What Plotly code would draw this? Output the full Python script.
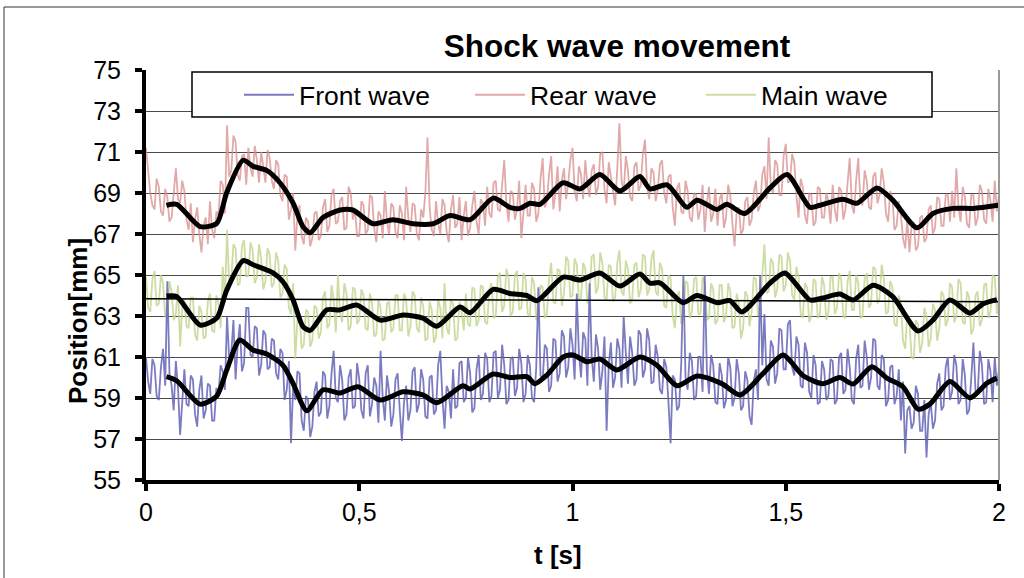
import plotly.graph_objects as go

# ---------------- data ----------------
title_text = "Shock wave movement"
series_names = ["Front wave", "Rear wave", "Main wave"]
x_ticks = [0, 0.5, 1, 1.5, 2]
y_ticks = [55, 57, 59, 61, 63, 65, 67, 69, 71, 73, 75]

sample_step = 0.005  # s, sampling interval of the raw signals (401 samples, 0..2 s)

rear_raw = [
    71.2, 70.1, 69.0, 68.4, 68.2, 69.7, 69.3, 68.1, 67.9, 69.2, 68.8, 67.6, 67.8, 69.0, 70.2, 68.7, 68.5, 69.6, 69.1, 67.7,
    67.2, 68.5, 66.6, 67.7, 68.3, 67.0, 66.1, 67.4, 67.8, 66.5, 68.6, 67.2, 66.8, 68.1, 67.9, 69.6, 69.4, 68.0, 72.3, 69.8,
    70.1, 71.8, 71.5, 69.9, 69.6, 70.8, 70.9, 69.4, 71.2, 70.2, 69.8, 71.3, 70.6, 69.5, 71.0, 70.3, 69.5, 71.1, 70.7, 69.6,
    69.2, 70.6, 70.4, 68.9, 68.6, 69.9, 69.8, 67.7, 68.2, 69.0, 66.2, 67.9, 68.4, 66.9, 66.5, 67.8, 67.6, 66.4, 66.8, 68.0,
    68.1, 66.7, 66.9, 68.3, 68.7, 67.1, 67.4, 68.9, 69.2, 67.5, 67.6, 68.6, 68.8, 67.2, 67.3, 69.3, 69.0, 67.7, 68.2, 66.9,
    66.9, 68.6, 68.4, 67.0, 67.2, 68.9, 68.8, 67.3, 66.6, 68.1, 67.9, 66.8, 69.1, 67.6, 67.0, 68.5, 68.3, 67.1, 66.8, 68.4,
    68.0, 66.7, 69.3, 67.8, 67.1, 68.5, 68.4, 67.0, 66.7, 68.2, 67.8, 69.0, 71.7, 68.3, 67.2, 66.9, 68.6, 67.5, 67.0, 68.7,
    68.4, 67.1, 66.6, 68.2, 68.9, 67.3, 67.5, 68.8, 66.7, 67.9, 68.6, 66.9, 67.3, 68.4, 69.1, 67.6, 67.0, 68.7, 68.5, 67.4,
    69.3, 68.0, 67.8, 69.5, 69.6, 68.2, 68.1, 69.4, 70.6, 68.5, 67.6, 69.1, 69.0, 67.7, 68.2, 69.6, 66.8, 68.0, 69.4, 67.9,
    67.9, 69.5, 69.2, 67.6, 68.0, 69.7, 70.7, 68.3, 68.6, 69.9, 70.8, 68.2, 69.0, 70.3, 68.1, 69.6, 70.2, 68.7, 69.5, 70.6,
    71.2, 69.1, 68.6, 70.3, 69.9, 68.7, 70.6, 69.4, 68.8, 70.1, 70.4, 68.9, 69.3, 70.9, 71.0, 69.2, 68.5, 70.5, 69.8, 68.9,
    68.4, 70.2, 72.4, 69.6, 69.0, 70.8, 70.1, 68.8, 68.6, 70.3, 70.5, 69.1, 69.4, 70.9, 71.6, 69.3, 68.7, 70.2, 70.0, 68.6,
    69.2, 70.4, 70.6, 69.0, 68.5, 69.8, 69.9, 68.3, 67.4, 69.2, 69.5, 68.1, 68.0, 69.6, 69.1, 67.8, 67.6, 69.0, 68.9, 67.7,
    68.2, 69.4, 67.1, 68.5, 69.3, 67.6, 68.0, 69.2, 67.4, 68.7, 69.0, 67.3, 67.8, 69.4, 68.9, 67.5, 66.4, 68.1, 68.3, 67.0,
    67.2, 68.6, 68.8, 67.4, 67.7, 69.0, 69.6, 68.1, 68.4, 69.9, 70.3, 68.7, 71.7, 69.3, 69.0, 70.6, 70.4, 68.9, 68.9, 70.8,
    71.4, 69.5, 69.6, 70.9, 70.5, 68.9, 67.8, 69.7, 69.3, 67.9, 67.5, 69.0, 68.9, 67.4, 67.6, 69.3, 69.2, 67.8, 67.8, 69.0,
    68.6, 67.5, 69.4, 68.2, 67.6, 69.3, 69.1, 67.7, 68.2, 69.5, 70.7, 68.4, 68.0, 69.6, 70.7, 68.6, 68.4, 70.1, 69.6, 68.3,
    68.2, 69.8, 70.0, 68.5, 68.9, 70.2, 69.5, 68.0, 67.6, 69.1, 68.8, 67.2, 67.4, 68.6, 67.9, 66.8, 66.3, 67.7, 66.1, 67.4,
    67.6, 66.2, 66.4, 67.8, 67.9, 66.6, 66.8, 68.2, 68.4, 67.0, 67.3, 68.8, 68.7, 67.4, 67.4, 68.9, 68.9, 67.6, 69.1, 67.8,
    70.2, 68.3, 67.6, 69.3, 68.8, 67.5, 67.3, 68.9, 68.9, 67.4, 67.8, 69.4, 69.1, 67.7, 67.5, 69.2, 68.6, 67.6, 69.6, 68.1,
    68.9,
]

front_raw = [
    61.0, 59.8, 59.2, 60.9, 60.6, 59.1, 58.9, 60.5, 61.4, 59.6, 64.7, 60.2, 59.6, 58.4, 60.8, 59.5, 57.2, 59.0, 60.4, 58.7,
    58.6, 60.1, 59.9, 58.2, 57.6, 59.4, 60.1, 58.0, 58.4, 59.7, 59.6, 57.9, 57.9, 59.5, 59.2, 60.6, 60.3, 59.4, 63.0, 60.9,
    61.2, 62.8, 59.9, 61.6, 62.6, 60.3, 60.7, 63.4, 63.4, 61.1, 61.0, 62.5, 62.4, 60.1, 60.6, 62.3, 62.1, 60.4, 60.5, 61.9,
    61.8, 60.2, 59.9, 61.4, 61.2, 58.9, 59.4, 60.8, 56.8, 59.6, 58.9, 60.3, 60.2, 57.9, 57.4, 59.1, 58.9, 57.1, 57.6, 59.3,
    59.8, 58.1, 58.3, 60.3, 60.1, 58.0, 58.6, 60.2, 61.3, 59.0, 58.8, 60.6, 59.9, 57.9, 58.2, 60.0, 60.4, 58.5, 58.6, 60.7,
    59.9, 58.4, 58.0, 60.2, 60.6, 58.1, 58.7, 60.0, 59.6, 57.8, 61.3, 59.0, 57.9, 60.1, 59.3, 57.6, 58.2, 59.9, 60.2, 58.4,
    56.9, 58.8, 59.6, 57.9, 58.4, 60.3, 60.5, 58.3, 58.7, 60.4, 59.9, 58.1, 58.0, 60.0, 60.1, 58.2, 58.4, 60.6, 61.3, 59.0,
    57.5, 59.6, 59.3, 58.0, 60.4, 58.5, 58.6, 60.7, 60.8, 58.8, 59.0, 61.0, 60.2, 58.3, 58.5, 60.4, 61.1, 58.9, 59.2, 61.2,
    60.9, 58.8, 59.1, 61.2, 61.3, 59.0, 59.4, 61.6, 60.6, 58.7, 58.9, 60.9, 61.0, 59.1, 59.5, 61.4, 60.7, 58.8, 59.2, 61.1,
    60.6, 59.0, 58.8, 60.5, 64.4, 60.1, 59.9, 61.6, 61.4, 59.3, 59.6, 61.9, 61.8, 59.8, 60.2, 62.3, 62.0, 60.0, 60.5, 62.4,
    61.6, 59.9, 64.1, 61.2, 60.0, 62.2, 61.9, 59.6, 64.6, 61.0, 59.8, 62.1, 61.4, 59.4, 60.3, 62.0, 57.4, 60.6, 61.7, 59.5,
    60.0, 61.9, 61.4, 59.5, 63.0, 61.2, 59.7, 62.0, 61.2, 59.6, 59.9, 62.3, 62.1, 60.0, 60.4, 62.4, 61.8, 59.7, 59.8, 61.6,
    61.0, 59.4, 59.2, 60.9, 60.5, 58.8, 56.8, 60.1, 59.9, 58.4, 58.6, 60.7, 65.0, 60.0, 59.4, 61.2, 60.8, 58.9, 59.1, 61.0,
    61.0, 59.3, 65.0, 60.4, 59.2, 61.1, 60.6, 58.8, 58.7, 60.7, 60.1, 58.5, 58.9, 61.0, 60.5, 58.6, 59.0, 60.9, 60.2, 58.4,
    58.6, 60.3, 59.9, 58.1, 57.7, 59.8, 60.4, 58.9, 65.0, 60.6, 63.1, 59.9, 59.6, 61.8, 61.5, 59.7, 60.2, 62.4, 62.3, 60.4,
    60.4, 62.6, 62.8, 60.5, 60.1, 62.0, 61.6, 59.6, 59.5, 61.7, 61.2, 59.3, 59.0, 61.1, 60.6, 58.7, 58.8, 60.8, 60.4, 58.9,
    59.1, 60.9, 60.8, 58.7, 58.9, 61.0, 61.2, 59.2, 59.4, 61.4, 60.5, 58.9, 58.7, 60.9, 61.6, 59.5, 59.6, 61.8, 61.0, 59.4,
    60.0, 61.9, 61.8, 59.6, 59.4, 61.1, 60.9, 58.6, 58.9, 60.5, 60.6, 58.7, 59.1, 60.4, 57.9, 59.8, 56.3, 58.4, 58.6, 57.5,
    57.8, 59.6, 59.2, 57.4, 57.4, 58.9, 56.1, 58.2, 58.8, 57.5, 57.9, 59.7, 60.2, 58.4, 58.6, 60.5, 61.0, 58.9, 59.3, 61.1,
    60.6, 58.7, 58.9, 60.9, 60.1, 58.2, 58.4, 60.0, 61.7, 59.3, 59.2, 61.3, 60.6, 58.7, 58.8, 60.9, 60.3, 58.8, 61.0, 59.6,
    60.4,
]

main_raw = [
    64.9, 63.4, 63.2, 64.8, 65.2, 63.5, 63.6, 65.0, 64.6, 63.0, 62.9, 64.7, 64.2, 62.8, 63.1, 64.5, 61.5, 63.4, 63.8, 62.5,
    62.4, 63.9, 63.9, 62.1, 61.8, 63.5, 63.2, 61.9, 62.0, 63.7, 64.1, 62.3, 62.2, 64.0, 63.6, 62.4, 65.4, 63.7, 67.2, 64.6,
    64.8, 66.5, 66.3, 64.5, 64.6, 66.4, 66.7, 64.9, 65.0, 66.6, 66.2, 64.6, 64.9, 66.5, 65.8, 64.3, 64.7, 66.3, 66.0, 64.4,
    64.6, 66.1, 65.7, 63.9, 64.1, 65.5, 65.3, 63.4, 63.1, 64.6, 60.9, 62.8, 63.0, 61.4, 61.6, 63.3, 63.2, 61.5, 61.8, 63.5,
    63.4, 61.9, 62.2, 63.9, 64.2, 62.4, 62.6, 64.5, 63.8, 62.2, 65.0, 63.1, 62.7, 64.6, 64.1, 62.3, 62.5, 64.4, 64.3, 62.6,
    62.8, 64.3, 64.0, 62.4, 62.3, 64.1, 63.6, 62.0, 62.1, 63.8, 63.4, 61.8, 61.9, 63.6, 63.7, 62.2, 62.4, 64.0, 64.0, 62.3,
    62.3, 64.1, 63.8, 62.0, 62.5, 64.2, 64.0, 62.4, 62.2, 63.9, 63.5, 61.8, 61.9, 63.7, 63.3, 61.7, 62.0, 63.8, 63.4, 61.9,
    64.6, 62.4, 62.1, 63.8, 63.6, 61.8, 61.9, 63.7, 63.2, 62.3, 64.1, 62.6, 62.5, 64.4, 64.3, 62.5, 62.8, 64.5, 64.4, 62.7,
    62.6, 64.3, 64.6, 62.9, 63.0, 64.9, 65.1, 63.2, 63.5, 65.3, 64.9, 63.0, 63.2, 65.0, 65.2, 63.3, 63.4, 65.1, 64.8, 63.1,
    63.0, 64.9, 64.6, 62.8, 62.9, 64.5, 64.4, 62.9, 63.1, 64.8, 65.6, 63.7, 63.6, 65.3, 65.2, 63.5, 64.1, 65.9, 65.7, 63.9,
    64.0, 65.8, 65.5, 63.8, 63.9, 65.6, 65.3, 63.6, 64.2, 65.9, 66.0, 64.1, 64.4, 66.1, 65.6, 63.9, 63.8, 65.5, 65.4, 63.7,
    63.9, 65.6, 66.2, 64.2, 64.0, 65.7, 65.3, 63.6, 63.8, 65.5, 65.6, 63.9, 64.3, 66.0, 65.9, 64.0, 64.3, 65.8, 66.2, 64.2,
    64.0, 65.6, 65.3, 63.5, 63.4, 65.0, 64.8, 63.0, 62.4, 64.0, 64.2, 62.6, 63.0, 64.7, 64.6, 62.9, 63.2, 64.8, 64.9, 63.1,
    63.1, 64.9, 64.6, 62.8, 62.9, 64.6, 64.3, 62.6, 62.8, 64.5, 64.5, 62.7, 63.0, 64.6, 64.2, 62.4, 62.5, 64.1, 63.6, 61.9,
    62.4, 64.2, 64.0, 62.5, 63.2, 64.9, 64.8, 63.0, 63.6, 65.3, 66.5, 64.1, 64.2, 65.8, 65.6, 63.9, 64.3, 66.0, 65.9, 64.2,
    64.5, 66.1, 65.7, 64.0, 63.8, 65.4, 64.9, 63.1, 62.9, 64.6, 64.4, 62.7, 63.0, 64.8, 64.7, 62.9, 63.1, 64.9, 64.5, 62.8,
    63.2, 64.9, 64.9, 63.1, 63.4, 65.1, 64.8, 63.0, 62.9, 64.7, 65.2, 63.3, 63.3, 65.0, 64.6, 62.9, 63.0, 64.8, 65.1, 63.4,
    63.6, 65.4, 65.3, 63.6, 63.9, 65.5, 64.8, 63.1, 63.2, 64.7, 64.4, 62.6, 62.5, 64.0, 63.6, 61.8, 61.4, 63.1, 62.7, 61.0,
    60.9, 62.8, 62.6, 61.2, 61.7, 63.4, 63.0, 61.5, 61.9, 63.6, 63.3, 61.8, 62.4, 64.2, 64.0, 62.5, 62.8, 64.6, 64.4, 62.7,
    63.0, 64.8, 64.6, 62.7, 62.6, 64.2, 63.9, 62.1, 62.4, 64.0, 64.2, 62.5, 62.8, 64.5, 64.6, 62.9, 63.2, 65.0, 64.9, 63.1,
    64.0,
]

# smoothed (moving-average) curves
rear_smooth_t = [0.048, 0.072, 0.127, 0.166, 0.189, 0.228, 0.251, 0.283, 0.314, 0.345,
                 0.368, 0.385, 0.415, 0.455, 0.485, 0.532, 0.579, 0.626, 0.673, 0.713,
                 0.760, 0.814, 0.853, 0.877, 0.900, 0.924, 0.978, 1.018, 1.064, 1.111,
                 1.158, 1.182, 1.222, 1.268, 1.292, 1.339, 1.362, 1.404, 1.463, 1.503,
                 1.557, 1.580, 1.634, 1.667, 1.714, 1.751, 1.808, 1.845, 1.892, 1.939, 1.998]
rear_smooth = [68.4, 68.45, 67.36, 67.52, 69.0, 70.6, 70.3, 70.1, 69.5, 68.5,
               67.36, 67.06, 67.8, 68.17, 68.17, 67.5, 67.7, 67.5, 67.5, 67.9,
               67.7, 68.75, 68.3, 68.25, 68.5, 68.45, 69.5, 69.2, 69.9, 69.1,
               69.8, 69.2, 69.4, 68.3, 68.65, 68.2, 68.45, 68.0, 69.25, 69.9,
               68.3, 68.4, 68.7, 68.5, 69.25, 68.65, 67.3, 68.0, 68.25, 68.25, 68.4]

main_smooth_t = [0.048, 0.072, 0.127, 0.166, 0.189, 0.228, 0.251, 0.298, 0.321, 0.345,
                 0.368, 0.385, 0.424, 0.455, 0.494, 0.549, 0.603, 0.649, 0.682, 0.736,
                 0.760, 0.814, 0.853, 0.893, 0.917, 0.978, 1.018, 1.064, 1.111, 1.158,
                 1.182, 1.205, 1.259, 1.292, 1.339, 1.369, 1.397, 1.463, 1.498, 1.557,
                 1.587, 1.627, 1.658, 1.705, 1.751, 1.810, 1.845, 1.885, 1.932, 1.963, 1.995]
main_smooth = [63.98, 63.95, 62.56, 62.9, 64.25, 65.7, 65.5, 65.1, 64.67, 63.78,
               62.48, 62.3, 63.3, 63.3, 63.54, 62.8, 63.05, 62.9, 62.5, 63.44,
               63.16, 64.3, 64.1, 64.0, 63.75, 64.9, 64.76, 65.1, 64.46, 65.05,
               64.6, 64.62, 63.65, 64.0, 63.65, 63.75, 63.2, 64.6, 65.1, 63.78,
               63.88, 64.07, 63.78, 64.5, 63.94, 62.27, 62.8, 63.78, 63.14, 63.6, 63.8]

front_smooth_t = [0.048, 0.072, 0.127, 0.166, 0.189, 0.220, 0.251, 0.283, 0.321, 0.345,
                  0.377, 0.415, 0.455, 0.497, 0.549, 0.603, 0.649, 0.682, 0.743, 0.760,
                  0.814, 0.853, 0.893, 0.912, 0.940, 0.978, 1.001, 1.034, 1.064, 1.104,
                  1.158, 1.198, 1.245, 1.292, 1.350, 1.393, 1.447, 1.494, 1.540, 1.587,
                  1.627, 1.658, 1.702, 1.737, 1.775, 1.810, 1.838, 1.885, 1.932, 1.972, 1.995]
front_smooth = [60.04, 59.84, 58.7, 59.1, 60.35, 61.83, 61.34, 61.15, 60.6, 59.7,
                58.38, 59.4, 59.24, 59.55, 58.9, 59.3, 59.15, 58.77, 59.6, 59.44,
                60.17, 60.0, 60.04, 59.7, 60.12, 61.0, 61.1, 60.77, 60.9, 60.37,
                61.0, 60.6, 59.6, 60.07, 59.7, 59.15, 60.2, 61.1, 60.1, 59.7,
                60.0, 59.68, 60.53, 59.97, 59.55, 58.46, 58.7, 59.8, 59.0, 59.73, 59.97]

trend_t = [0, 2]
trend_main = [63.84, 63.70]

# ---------------- styling ----------------
FONT = "Liberation Sans, Arial, sans-serif"
col_front = "rgba(100,100,182,0.85)"
col_rear = "rgba(216,140,140,0.75)"
col_main = "rgba(190,212,140,0.8)"

t_raw = [round(i * sample_step, 3) for i in range(len(rear_raw))]

fig = go.Figure()
fig.add_trace(go.Scatter(x=t_raw, y=rear_raw, mode="lines", name=series_names[1],
                         line=dict(color=col_rear, width=1.8), legendrank=2))
fig.add_trace(go.Scatter(x=t_raw, y=main_raw, mode="lines", name=series_names[2],
                         line=dict(color=col_main, width=1.8), legendrank=3))
fig.add_trace(go.Scatter(x=t_raw, y=front_raw, mode="lines", name=series_names[0],
                         line=dict(color=col_front, width=1.8), legendrank=1))
fig.add_trace(go.Scatter(x=trend_t, y=trend_main, mode="lines", showlegend=False,
                         line=dict(color="black", width=1.5)))
for ts, vs in [(rear_smooth_t, rear_smooth), (main_smooth_t, main_smooth),
               (front_smooth_t, front_smooth)]:
    fig.add_trace(go.Scatter(x=ts, y=vs, mode="lines", showlegend=False,
                             line=dict(color="black", width=5, shape="spline", smoothing=0.7)))

W, H = 1024, 578
L, R, T, B = 146, 25, 70, 98
pw, ph = W - L - R, H - T - B

def px2x(p):
    return (p - L) / pw

def px2y(p):
    return (H - B - p) / ph

fig.update_layout(
    width=W, height=H,
    margin=dict(l=L, r=R, t=T, b=B),
    paper_bgcolor="white", plot_bgcolor="white",
    separators=", ",
    font=dict(family=FONT, size=25, color="black"),
    title=dict(text=title_text, x=px2x(617), xref="paper", xanchor="center",
               y=1 - 46 / H, yref="container", yanchor="middle",
               font=dict(family=FONT, size=31.5, color="black", weight="bold")),
    showlegend=True,
    legend=dict(orientation="h", x=px2x(239), xanchor="left", y=px2y(95), yanchor="middle",
                bgcolor="rgba(0,0,0,0)", borderwidth=0, itemwidth=50,
                entrywidth=166, font=dict(family=FONT, size=26.5, color="black")),
    xaxis=dict(range=[0, 2], tickvals=x_ticks, showgrid=False, zeroline=False,
               showline=True, linecolor="black", linewidth=4,
               ticks="outside", ticklen=7, tickwidth=4, tickcolor="black",
               tickfont=dict(family=FONT, size=25), ticklabelstandoff=0),
    yaxis=dict(range=[55, 75], tickvals=y_ticks, showgrid=True, gridcolor="#4a4a4a",
               gridwidth=1, zeroline=False,
               showline=True, linecolor="black", linewidth=4,
               ticks="outside", ticklen=7, tickwidth=4, tickcolor="black",
               tickfont=dict(family=FONT, size=25), ticklabelstandoff=9),
    annotations=[
        dict(text="<b>Position[mm]</b>", xref="paper", yref="paper", x=px2x(78), y=px2y(321),
             xanchor="center", yanchor="middle", textangle=-90, showarrow=False,
             font=dict(family=FONT, size=26, color="black")),
        dict(text="<b>t [s]</b>", xref="paper", yref="paper", x=px2x(558), y=px2y(555),
             xanchor="center", yanchor="middle", showarrow=False,
             font=dict(family=FONT, size=26, color="black")),
    ],
    shapes=[
        # outer chart border
        dict(type="rect", xref="paper", yref="paper", x0=px2x(4), x1=px2x(1040),
             y0=px2y(600), y1=px2y(7), line=dict(color="#333333", width=1), layer="below"),
        # right border of plot area
        dict(type="line", xref="paper", yref="paper", x0=1, x1=1, y0=0, y1=1,
             line=dict(color="#999999", width=2)),
        # legend frame
        dict(type="rect", xref="paper", yref="paper", x0=px2x(192), x1=px2x(932),
             y0=px2y(117), y1=px2y(72), line=dict(color="black", width=1.5),
             fillcolor="white", layer="above"),
    ],
)

fig.write_html("out.html", config={"displayModeBar": False},
               post_script="document.body.style.margin='0px';")
